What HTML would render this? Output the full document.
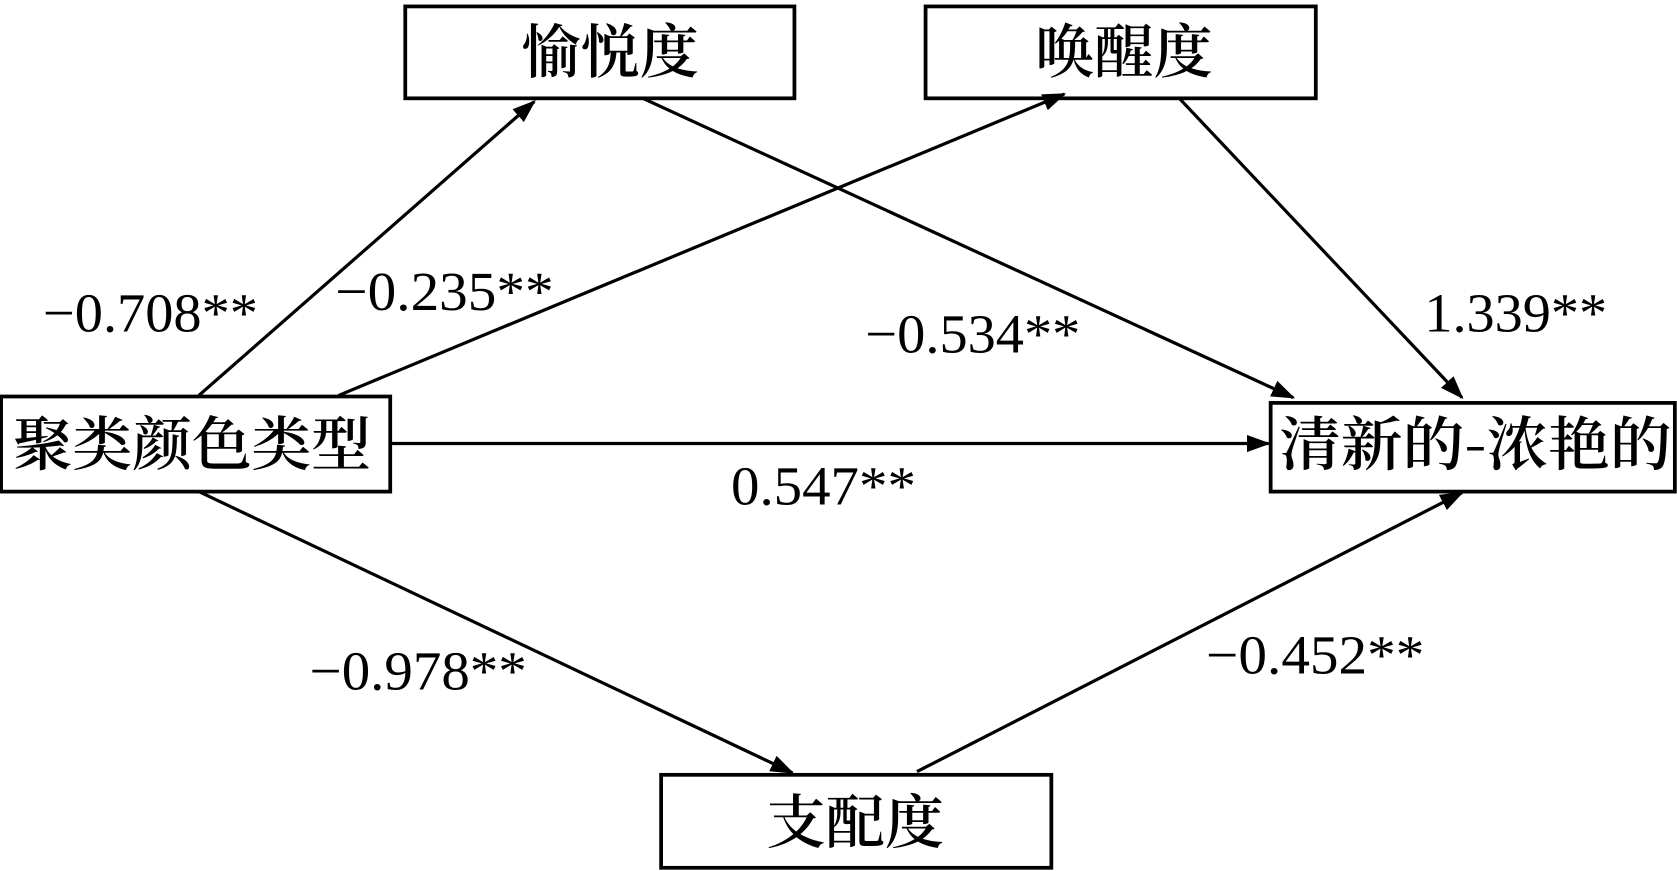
<!DOCTYPE html>
<html><head><meta charset="utf-8"><style>
html,body{margin:0;padding:0;background:#fff;}
svg{display:block;}
.cj{font-family:"Noto Serif CJK SC","Noto Sans CJK SC",serif;font-size:55px;font-weight:600;}
.n{font-family:"Liberation Serif",serif;font-size:52px;}
</style></head><body>
<svg width="1677" height="871" viewBox="0 0 1560 815" preserveAspectRatio="none" xmlns="http://www.w3.org/2000/svg">
<defs>
<marker id="b" markerWidth="22" markerHeight="16" refX="20" refY="8" orient="auto" markerUnits="userSpaceOnUse"><path d="M0,0 L22,8 L0,16 Z" fill="#000"/></marker></defs>
<g fill="#fff" stroke="#000" stroke-width="3.5">
<rect x="377" y="6" width="362" height="86"/>
<rect x="861" y="6" width="363" height="86"/>
<rect x="1" y="371" width="362" height="89"/>
<rect x="1182" y="377" width="376" height="83"/>
<rect x="615" y="725" width="363" height="87"/>
</g>
<g stroke="#000" stroke-width="3" fill="none" marker-end="url(#b)">
<line x1="185" y1="370" x2="497" y2="95"/>
<line x1="315" y1="370" x2="990" y2="88"/>
<line x1="598" y1="92" x2="1203" y2="372"/>
<line x1="1097" y1="92" x2="1360" y2="372"/>
<line x1="363" y1="415" x2="1180" y2="415"/>
<line x1="185" y1="460" x2="737" y2="723"/>
<line x1="853" y1="722" x2="1360" y2="461"/>
</g>
<g class="cj" fill="#000">
<text x="485" y="68" textLength="165" lengthAdjust="spacingAndGlyphs">愉悦度</text>
<text x="963" y="68" textLength="165" lengthAdjust="spacingAndGlyphs">唤醒度</text>
<text x="12" y="435" textLength="333" lengthAdjust="spacingAndGlyphs">聚类颜色类型</text>
<text x="1190" y="435" textLength="365" lengthAdjust="spacingAndGlyphs">清新的-浓艳的</text>
<text x="713" y="789" textLength="165" lengthAdjust="spacingAndGlyphs">支配度</text>
</g>
<g class="n" fill="#000">
<text x="40" y="310" textLength="200" lengthAdjust="spacingAndGlyphs">−0.708**</text>
<text x="312" y="290" textLength="203" lengthAdjust="spacingAndGlyphs">−0.235**</text>
<text x="805" y="330" textLength="200" lengthAdjust="spacingAndGlyphs">−0.534**</text>
<text x="1325" y="310" textLength="170" lengthAdjust="spacingAndGlyphs">1.339**</text>
<text x="680" y="472" textLength="172" lengthAdjust="spacingAndGlyphs">0.547**</text>
<text x="288" y="645" textLength="202" lengthAdjust="spacingAndGlyphs">−0.978**</text>
<text x="1122" y="630" textLength="203" lengthAdjust="spacingAndGlyphs">−0.452**</text>
</g>
</svg>
</body></html>
